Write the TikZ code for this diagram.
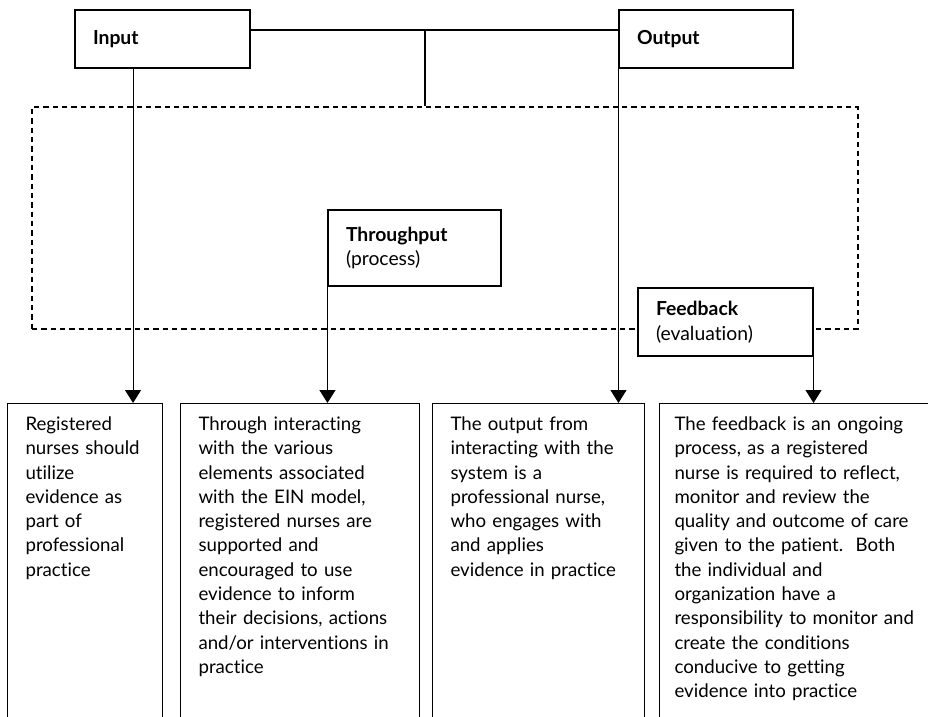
\documentclass[tikz,border=0pt]{standalone}
\usepackage{fontspec}
\setmainfont{Lato}[Ligatures={NoCommon}]
\usetikzlibrary{arrows.meta}
\tikzstyle{head} = [rectangle, draw=black, fill=white, line width=0.8pt, align=left,
inner xsep=13.5pt, font=\fontsize{14.5}{18.5}\selectfont]
\tikzstyle{body} = [rectangle, draw=black, line width=0.8pt, anchor=north west, align=left,
inner xsep=13.5pt, inner ysep=10pt, text depth=300pt, font=\fontsize{14}{18.2}\selectfont]
\tikzstyle{system} = [rectangle, draw=black, line width=0.8pt, dash pattern=on 4pt off 3pt, inner sep=0pt]
\tikzstyle{line} = [line width=0.8pt]
\tikzstyle{arrow} = [line width=0.8pt,-{Triangle[length=9.75pt,width=12pt]}]

\begin{document}
\begin{tikzpicture}[x=0.75pt,y=-0.75pt]
\useasboundingbox (0,0) rectangle (928,717);
\clip (0,0) rectangle (928,717);

\node (system)[system, minimum width=619.5pt, minimum height=166.5pt] at (445,218) {};
\node (input)[head, text width=104.25pt, minimum height=43.5pt] at (162.5,39) {\textbf{Input}};
\node (output)[head, text width=103.5pt, minimum height=43.5pt] at (706,39) {\textbf{Output}};
\node (through)[head, text width=102.75pt, minimum height=57pt] at (414.5,248) {\textbf{Throughput}\\(process)};
\node (feedback)[head, text width=104.25pt, minimum height=51pt] at (725.5,322) {\textbf{Feedback}\\(evaluation)};

\node (b1)[body, text width=89.25pt] at (7,403) {Registered\\nurses should\\utilize\\evidence as\\part of\\professional\\practice};
\node (b2)[body, text width=152.25pt] at (180,403) {Through interacting\\with the various\\elements associated\\with the EIN model,\\registered nurses are\\supported and\\encouraged to use\\evidence to inform\\their decisions, actions\\and/or interventions in\\practice};
\node (b3)[body, text width=132pt] at (432,403) {The output from\\interacting with the\\system is a\\professional nurse,\\who engages with\\and applies\\evidence in practice};
\node (b4)[body, inner xsep=11.25pt, text width=200pt] at (659,403) {The feedback is an ongoing\\process, as a registered\\nurse is required to reflect,\\monitor and review the\\quality and outcome of care\\given to the patient.\ \ Both\\the individual and\\organization have a\\responsibility to monitor and\\create the conditions\\conducive to getting\\evidence into practice};

\coordinate (join) at (425,30);
\draw [line]([yshift=6.75pt]input.east) -- ([yshift=6.75pt]output.west);
\draw [line](join) -- (join |- system.north);
\draw [arrow]([xshift=-22.1pt]input.south) -- ([xshift=-22.1pt]input.south |- b1.north);
\draw [arrow](through.south west) -- (through.south west |- b2.north);
\draw [arrow](output.south west) -- (output.south west |- b3.north);
\draw [arrow](feedback.south east) -- (feedback.south east |- b4.north);
\end{tikzpicture}
\end{document}
